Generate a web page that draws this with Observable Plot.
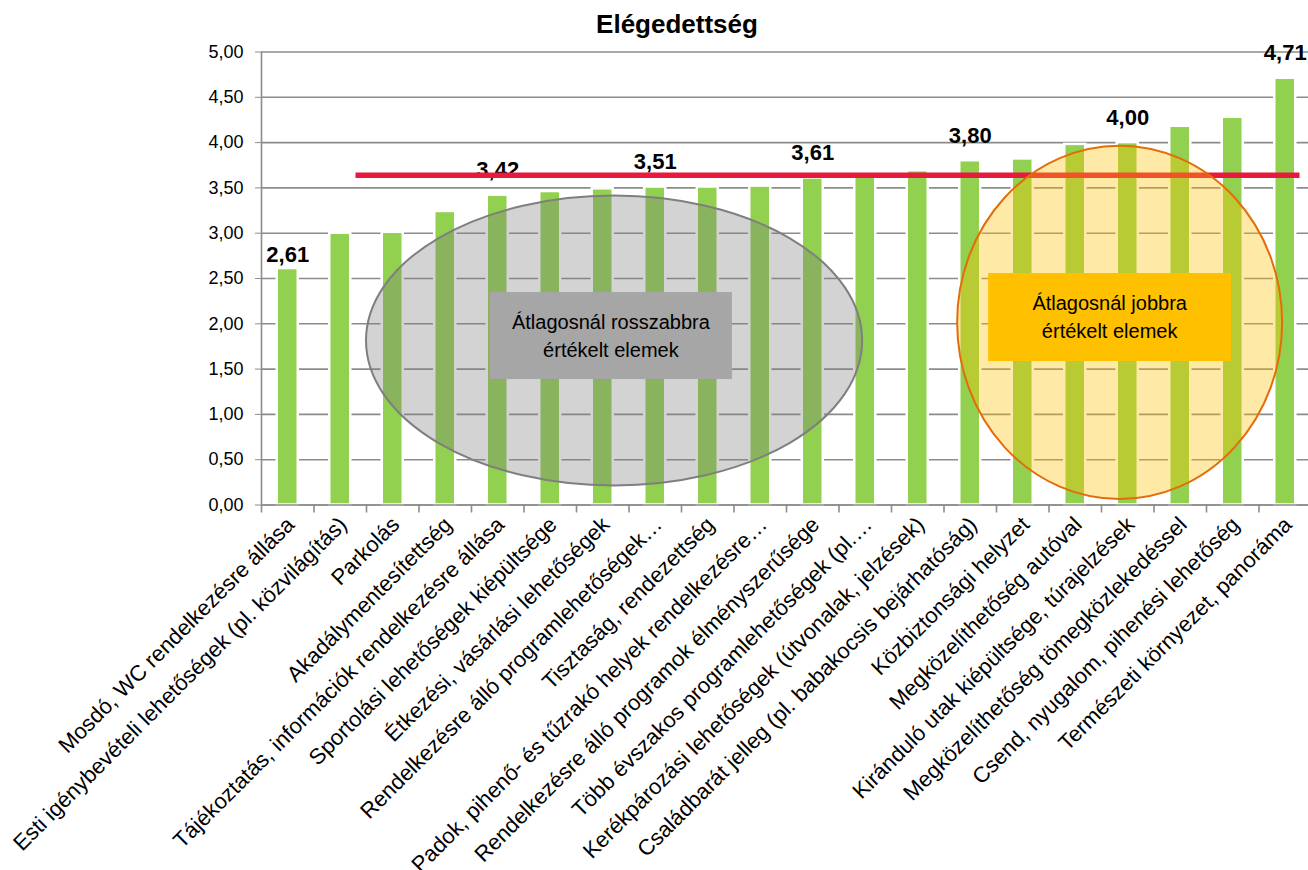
<!DOCTYPE html>
<html>
<head>
<meta charset="utf-8">
<script src="https://cdn.jsdelivr.net/npm/d3@7"></script>
<script src="https://cdn.jsdelivr.net/npm/@observablehq/plot@0.6"></script>
<style>
  body { margin: 0; background: #fff; font-family: "Liberation Sans", Arial, sans-serif; }
  #wrap { position: relative; width: 1308px; height: 870px; overflow: hidden; }
  #title { position: absolute; left: 577px; width: 200px; top: 9px; line-height: 30px;
           text-align: center; font-weight: bold; font-size: 26px; color: #000; }
  #chart { position: absolute; left: 0; top: 0; }
</style>
</head>
<body>
<div id="wrap">
  <div id="chart"></div>
  <div id="title">Elégedettség</div>
</div>
<script>
// ---- data ----
const categories = [
  "Mosdó, WC rendelkezésre állása",
  "Esti igénybevételi lehetőségek (pl. közvilágítás)",
  "Parkolás",
  "Akadálymentesítettség",
  "Tájékoztatás, információk rendelkezésre állása",
  "Sportolási lehetőségek kiépültsége",
  "Étkezési, vásárlási lehetőségek",
  "Rendelkezésre álló programlehetőségek…",
  "Tisztaság, rendezettség",
  "Padok, pihenő- és tűzrakó helyek rendelkezésre…",
  "Rendelkezésre álló programok élményszerűsége",
  "Több évszakos programlehetőségek (pl.…",
  "Kerékpározási lehetőségek (útvonalak, jelzések)",
  "Családbarát jelleg (pl. babakocsis bejárhatóság)",
  "Közbiztonsági helyzet",
  "Megközelíthetőség autóval",
  "Kiránduló utak kiépültsége, túrajelzések",
  "Megközelíthetőség tömegközlekedéssel",
  "Csend, nyugalom, pihenési lehetőség",
  "Természeti környezet, panoráma"
];
const values = [2.61, 3.00, 3.01, 3.24, 3.42, 3.46, 3.49, 3.51, 3.51, 3.52,
                3.61, 3.64, 3.69, 3.80, 3.82, 3.98, 4.00, 4.18, 4.28, 4.71];
const labeledIndex = [0, 4, 7, 10, 13, 16, 19];
const yTicks = [0, 0.5, 1, 1.5, 2, 2.5, 3, 3.5, 4, 4.5, 5];
const averageValue = 3.64;
const averageFrom = categories[1];
const averageTo = categories[19];
const titleText = "Elégedettség";

// annotations in data units (band index u along x, value along y)
const ellipses = [
  {u0: 2.0, u1: 11.45, y0: 0.21, y1: 3.41, fill: "#7a7a7a", opacity: 0.33, stroke: "#7f7f7f"},
  {u0: 13.26, u1: 19.45, y0: 0.06, y1: 3.96, fill: "#FFC000", opacity: 0.35, stroke: "#E46C0A"}
];
const boxes = [
  {u0: 4.36, u1: 8.97, y0: 1.385, y1: 2.345, fill: "#A6A6A6", lines: ["Átlagosnál rosszabbra", "értékelt elemek"]},
  {u0: 13.85, u1: 18.48, y0: 1.584, y1: 2.555, fill: "#FFC000", lines: ["Átlagosnál jobbra", "értékelt elemek"]}
];

// ---- chart ----
document.getElementById("title").textContent = titleText;
const data = categories.map((c, i) => ({category: c, value: values[i]}));
const firstLabel = labeledIndex.slice(0, 1).map(i => data[i]);
const otherLabels = labeledIndex.slice(1).map(i => data[i]);
const averageRow = [{value: averageValue, from: averageFrom, to: averageTo}];
const fmt = v => v.toFixed(2).replace(".", ",");

const W = 1308, H = 870;
const xStart = 261, xEnd = 1311;
const step = (xEnd - xStart) / categories.length;
const gridColor = "#8c8c8c";
const labelFont = "'Liberation Sans', Arial, sans-serif";

const plot = Plot.plot({
  width: W, height: H,
  marginLeft: 261, marginRight: 0, marginTop: 51.5, marginBottom: 365.5,
  style: {fontFamily: labelFont, fontSize: "18px", color: "#000", background: "#fff"},
  x: {domain: categories, range: [xStart, xEnd], padding: 0, round: false, label: null},
  y: {domain: [0, 5], label: null},
  marks: [
    Plot.gridY(yTicks, {stroke: gridColor, strokeOpacity: 1, strokeWidth: 1.6}),
    Plot.barY(data, {x: "category", y: "value", fill: "#92D050", stroke: "#fff", strokeWidth: 2.5,
                     insetLeft: 15.75, insetRight: 15.75}),
    Plot.ruleY([0], {stroke: gridColor, strokeWidth: 1.6}),
    Plot.ruleX([categories[0]], {y1: 0, y2: 5, dx: -step / 2, stroke: gridColor, strokeWidth: 1.6}),
    Plot.ruleX(categories, {y1: 0, y2: 0, insetBottom: -8, dx: -step / 2, stroke: gridColor, strokeWidth: 1.6}),
    Plot.axisY({ticks: yTicks, tickFormat: fmt, tickSize: 6, tickPadding: 12, stroke: gridColor, fontSize: 18}),
    Plot.axisX({tickSize: 0, tickRotate: -45, tickPadding: 16, fontSize: 22, dx: 3}),
    Plot.text(firstLabel, {x: "category", y: "value", text: d => fmt(d.value), lineAnchor: "bottom", dy: -7,
                           fontFamily: labelFont, fontWeight: "bold", fontSize: 22}),
    Plot.text(otherLabels, {x: "category", y: "value", text: d => fmt(d.value), lineAnchor: "bottom", dy: -18,
                           fontFamily: labelFont, fontWeight: "bold", fontSize: 22}),
    Plot.ruleY(averageRow, {y: "value", x1: "from", x2: "to", insetLeft: 42, insetRight: 11.5,
                            stroke: "#E8193C", strokeWidth: 5.5})
  ]
});

document.getElementById("chart").appendChild(plot);

// annotations drawn through the plot's own scales
const sx = plot.scale("x"), sy = plot.scale("y");
const bandStep = sx.step || (sx.range[1] - sx.range[0]) / sx.domain.length;
const xu = u => sx.range[0] + u * bandStep;
const yv = v => sy.apply(v);
const svg = d3.select(plot);
const g = svg.append("g");
for (const e of ellipses) {
  const cx = (xu(e.u0) + xu(e.u1)) / 2, cy = (yv(e.y0) + yv(e.y1)) / 2;
  g.append("ellipse")
    .attr("cx", cx).attr("cy", cy)
    .attr("rx", Math.abs(xu(e.u1) - xu(e.u0)) / 2)
    .attr("ry", Math.abs(yv(e.y0) - yv(e.y1)) / 2)
    .attr("fill", e.fill).attr("fill-opacity", e.opacity)
    .attr("stroke", e.stroke).attr("stroke-width", 2);
}
for (const b of boxes) {
  const x0 = xu(b.u0), x1 = xu(b.u1), y0 = yv(b.y1), y1 = yv(b.y0);
  g.append("rect").attr("x", x0).attr("y", y0).attr("width", x1 - x0).attr("height", y1 - y0)
    .attr("fill", b.fill);
  const t = g.append("text")
    .attr("text-anchor", "middle")
    .attr("font-family", labelFont)
    .attr("font-size", 20).attr("fill", "#000");
  const cx = (x0 + x1) / 2, cy = (y0 + y1) / 2;
  b.lines.forEach((line, k) => {
    t.append("tspan").attr("x", cx).attr("y", cy + (k - (b.lines.length - 1) / 2) * 28).attr("dy", "0.35em").text(line);
  });
}
</script>
</body>
</html>
